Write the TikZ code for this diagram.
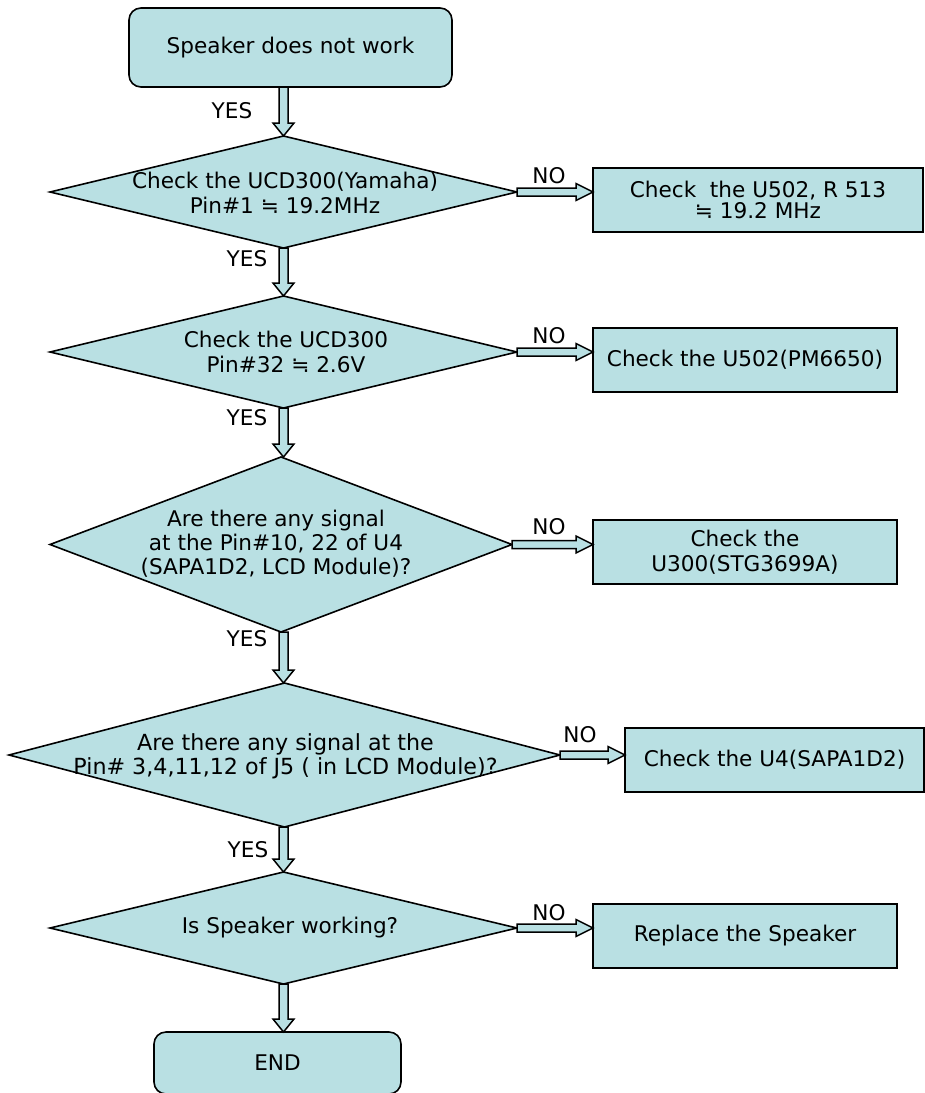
\documentclass[tikz,border=0pt]{standalone}
\usepackage{fontspec}
\setmainfont{DejaVu Sans}
\usetikzlibrary{shapes.geometric,calc}
\definecolor{boxfill}{RGB}{185,224,227}
\tikzset{
  base/.style={draw=black, line width=1.6pt, fill=boxfill, outer sep=0pt, inner sep=0pt},
  txt/.style={font=\fontsize{21.6}{25}\selectfont, align=center, inner sep=0pt},
  term/.style={base, txt, rectangle, rounded corners=12pt},
  procbox/.style={base, txt, rectangle},
  decision/.style={base, diamond},
  lab/.style={font=\fontsize{21.6}{25}\selectfont, inner sep=0pt},
  fatarrow/.style={draw=black, line width=1.5pt, fill=boxfill, line join=miter}
}
\newcommand{\fatdown}[2]{%
  \draw[fatarrow] let \p1=(#1), \p2=(#2) in
    (\x1-4.5pt,\y1) -- (\x1-4.5pt,\y2+13pt) -- (\x1-10.5pt,\y2+13pt) -- (\x1,\y2)
    -- (\x1+10.5pt,\y2+13pt) -- (\x1+4.5pt,\y2+13pt) -- (\x1+4.5pt,\y1) -- cycle;}
\newcommand{\fatright}[2]{%
  \draw[fatarrow] let \p1=(#1), \p2=(#2) in
    (\x1,\y1+4pt) -- (\x2-17pt,\y1+4pt) -- (\x2-17pt,\y1+8.5pt) -- (\x2,\y1)
    -- (\x2-17pt,\y1-8.5pt) -- (\x2-17pt,\y1-4pt) -- (\x1,\y1-4pt) -- cycle;}
\begin{document}
\begin{tikzpicture}[x=1pt,y=-1pt]
\useasboundingbox (0,0) rectangle (925,1093);

% terminals
\node[term, minimum width=323pt, minimum height=79pt] (start) at (290.5,47.5) {Speaker does not work};
\node[term, minimum width=247pt, minimum height=62pt] (end) at (277.5,1063) {END};

% decisions
\node[decision, minimum width=467pt, minimum height=112pt] (d1) at (283.5,192) {};
\node[txt] (d1t) at (285,193) {Check the UCD300(Yamaha)\\Pin\#1 ≒ 19.2MHz};

\node[decision, minimum width=467pt, minimum height=112pt] (d2) at (283.5,352) {};
\node[txt] (d2t) at (286,352) {Check the UCD300\\Pin\#32 ≒ 2.6V};

\node[decision, minimum width=462pt, minimum height=175pt] (d3) at (281,544.5) {};
\node[txt, font=\fontsize{21.6}{24}\selectfont] (d3t) at (276,544) {Are there any signal\\at the Pin\#10, 22 of U4\\(SAPA1D2, LCD Module)?};

\node[decision, minimum width=551pt, minimum height=144pt] (d4) at (284.5,755) {};
\node[txt, font=\fontsize{22.2}{24}\selectfont] (d4t) at (285.5,756) {Are there any signal at the\\Pin\# 3,4,11,12 of J5 ( in LCD Module)?};

\node[decision, minimum width=467pt, minimum height=112pt] (d5) at (283.5,928) {};
\node[txt] (d5t) at (290,928) {Is Speaker working?};

% process boxes
\node[procbox, minimum width=330pt, minimum height=64pt] (b1) at (758,200) {Check\ \ the U502, R 513\\[-4pt]≒ 19.2 MHz};
\node[procbox, minimum width=304pt, minimum height=64pt] (b2) at (745,360) {Check the U502(PM6650)};
\node[procbox, minimum width=304pt, minimum height=64pt] (b3) at (745,552) {Check the\\U300(STG3699A)};
\node[procbox, minimum width=299pt, minimum height=64pt] (b4) at (774.5,760) {Check the U4(SAPA1D2)};
\node[procbox, minimum width=304pt, minimum height=64pt] (b5) at (745,936) {Replace the Speaker};

% vertical YES arrows
\fatdown{d1.north |- start.south}{d1.north}
\fatdown{d1.south}{d2.north}
\fatdown{d2.south}{d3.north -| d2.south}
\fatdown{d3.south -| d2.south}{d4.north -| d2.south}
\fatdown{d4.south -| d5.south}{d5.north}
\fatdown{d5.south}{d5.south |- end.north}

% horizontal NO arrows
\fatright{d1.east}{d1.east -| b1.west}
\fatright{d2.east}{d2.east -| b2.west}
\fatright{d3.east}{d3.east -| b3.west}
\fatright{d4.east}{d4.east -| b4.west}
\fatright{d5.east}{d5.east -| b5.west}

% labels
\node[lab] (y1) at (232,111) {YES};
\node[lab] (y2) at (247,259) {YES};
\node[lab] (y3) at (247,418) {YES};
\node[lab] (y4) at (247,639) {YES};
\node[lab] (y5) at (248,850) {YES};
\node[lab] (n1) at (549,176) {NO};
\node[lab] (n2) at (549,336) {NO};
\node[lab] (n3) at (549,527) {NO};
\node[lab] (n4) at (580,735) {NO};
\node[lab] (n5) at (549,913) {NO};
\end{tikzpicture}
\end{document}
